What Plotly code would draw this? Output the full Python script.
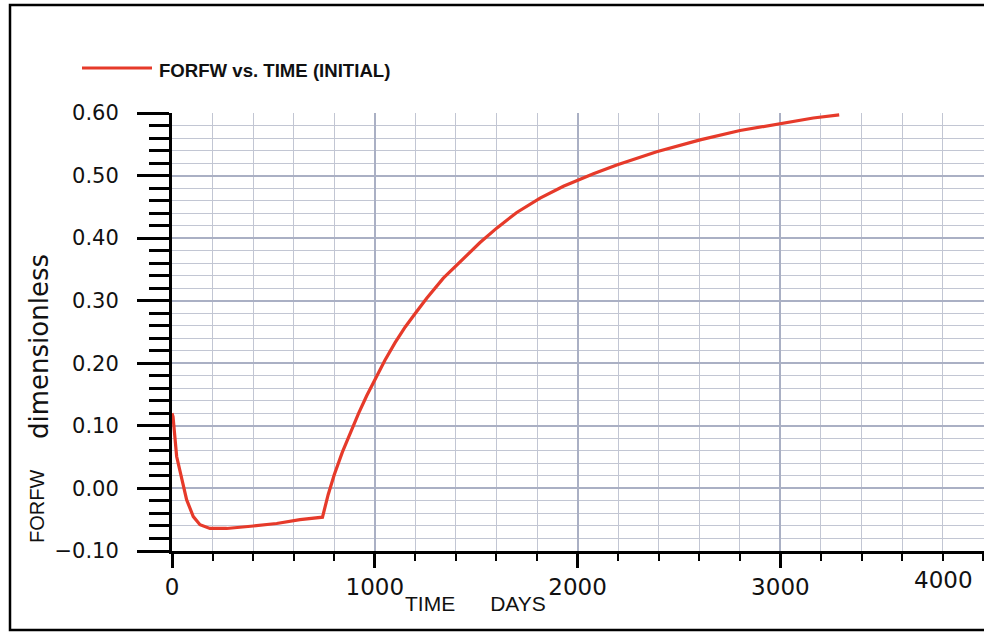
import plotly.graph_objects as go

# ---- data ----
days = [0, 5, 23, 48, 72, 105, 138, 187, 270, 401, 516, 631, 700, 742, 770, 800,
        840, 880, 920, 960, 1000, 1050, 1100, 1150, 1200, 1256, 1338, 1437, 1519,
        1601, 1700, 1815, 1930, 2078, 2193, 2390, 2604, 2801, 2998, 3162, 3290]
forfw = [0.12, 0.115, 0.051, 0.013, -0.018, -0.045, -0.058, -0.064, -0.064, -0.060,
         -0.056, -0.050, -0.048, -0.046, -0.010, 0.022, 0.058, 0.090, 0.120, 0.148,
         0.174, 0.205, 0.233, 0.258, 0.280, 0.304, 0.336, 0.368, 0.393, 0.416,
         0.441, 0.464, 0.483, 0.503, 0.517, 0.538, 0.557, 0.572, 0.583, 0.592, 0.597]

x_tick_vals = [0, 1000, 2000, 3000, 4000]
x_tick_text = ["0", "1000", "2000", "3000", "4000"]
y_tick_vals = [-0.10, 0.00, 0.10, 0.20, 0.30, 0.40, 0.50, 0.60]
y_tick_text = ["\u22120.10", "0.00", "0.10", "0.20", "0.30", "0.40", "0.50", "0.60"]

series_name = "FORFW vs. TIME (INITIAL)"
x_title_a, x_title_b = "TIME", "DAYS"
y_title_a, y_title_b = "FORFW", "dimensionless"

# ---- layout geometry ----
W, H = 984, 632
L, R, T, B = 172, 0, 113, 81
PW, PH = W - L - R, H - T - B


def px(x):
    return (x - L) / PW


def py(y):
    return (H - B - y) / PH


RED = "#e63a2a"
GRID_MAJ = "#aab0c4"
GRID_MIN = "#c2c6d3"

fig = go.Figure()
fig.add_trace(go.Scatter(x=days, y=forfw, mode="lines", name=series_name,
                         line=dict(color=RED, width=3.2), showlegend=False))

fig.update_layout(
    width=W, height=H,
    margin=dict(l=L, r=R, t=T, b=B, pad=0),
    paper_bgcolor="white", plot_bgcolor="white",
    showlegend=False,
)

fig.update_xaxes(
    range=[0, 4004], tickmode="array", tickvals=x_tick_vals[:-1], ticktext=x_tick_text[:-1],
    showline=True, linecolor="black", linewidth=2.5,
    ticks="outside", ticklen=14, tickwidth=3, tickcolor="black",
    showgrid=True, gridcolor=GRID_MAJ, gridwidth=2.2, zeroline=False,
    tickfont=dict(family="DejaVu Sans", size=23, color="#111"),
    minor=dict(tickmode="linear", tick0=0, dtick=200, ticks="outside", ticklen=7,
               tickwidth=2, tickcolor="black", showgrid=True, gridcolor=GRID_MIN,
               gridwidth=1.2),
)
fig.update_yaxes(
    range=[-0.10, 0.60], tickmode="array", tickvals=y_tick_vals, ticktext=y_tick_text,
    showline=True, linecolor="black", linewidth=3,
    ticks="outside", ticklen=32, tickwidth=3, tickcolor="black",
    ticklabelstandoff=14,
    showgrid=True, gridcolor=GRID_MAJ, gridwidth=2.2, zeroline=False,
    tickfont=dict(family="DejaVu Sans", size=21, color="#111"),
    minor=dict(tickmode="linear", tick0=-0.10, dtick=0.02, ticks="outside", ticklen=20,
               tickwidth=2.5, tickcolor="black", showgrid=True, gridcolor=GRID_MIN,
               gridwidth=1.4),
)

# last x tick label (sits at the right edge of the picture)
fig.add_annotation(x=x_tick_vals[-1], xref="x", y=0, yref="paper", text=x_tick_text[-1],
                   showarrow=False, xanchor="right", yanchor="top", xshift=-8, yshift=-14,
                   font=dict(family="DejaVu Sans", size=23, color="#111"))

# axis titles
fig.add_annotation(x=px(475), y=py(603), xref="paper", yref="paper",
                   text=x_title_a + "\u00a0" * 6 + x_title_b, showarrow=False,
                   xanchor="center", yanchor="middle",
                   font=dict(family="Liberation Sans", size=21, color="#111"))
fig.add_annotation(x=px(37), y=py(507), xref="paper", yref="paper", text=y_title_a,
                   showarrow=False, textangle=-90, xanchor="center", yanchor="middle",
                   font=dict(family="Liberation Sans", size=20, color="#111"))
fig.add_annotation(x=px(39), y=py(347), xref="paper", yref="paper", text=y_title_b,
                   showarrow=False, textangle=-90, xanchor="center", yanchor="middle",
                   font=dict(family="DejaVu Sans", size=26, color="#111"))

# legend sample line and label
fig.add_shape(type="line", xref="paper", yref="paper", x0=px(82), x1=px(152),
              y0=py(68), y1=py(68), line=dict(color=RED, width=3))
fig.add_annotation(x=px(157), y=py(70), xref="paper", yref="paper", text="<b>" + series_name + "</b>",
                   showarrow=False, xanchor="left", yanchor="middle",
                   font=dict(family="Liberation Sans", size=18.6, color="#111"))

# outer frame of the scanned page
fig.add_shape(type="rect", xref="paper", yref="paper", x0=px(10), x1=px(1000),
              y0=py(630), y1=py(5), line=dict(color="black", width=2.5),
              fillcolor="rgba(0,0,0,0)", layer="above")

fig.write_html("out.html")
